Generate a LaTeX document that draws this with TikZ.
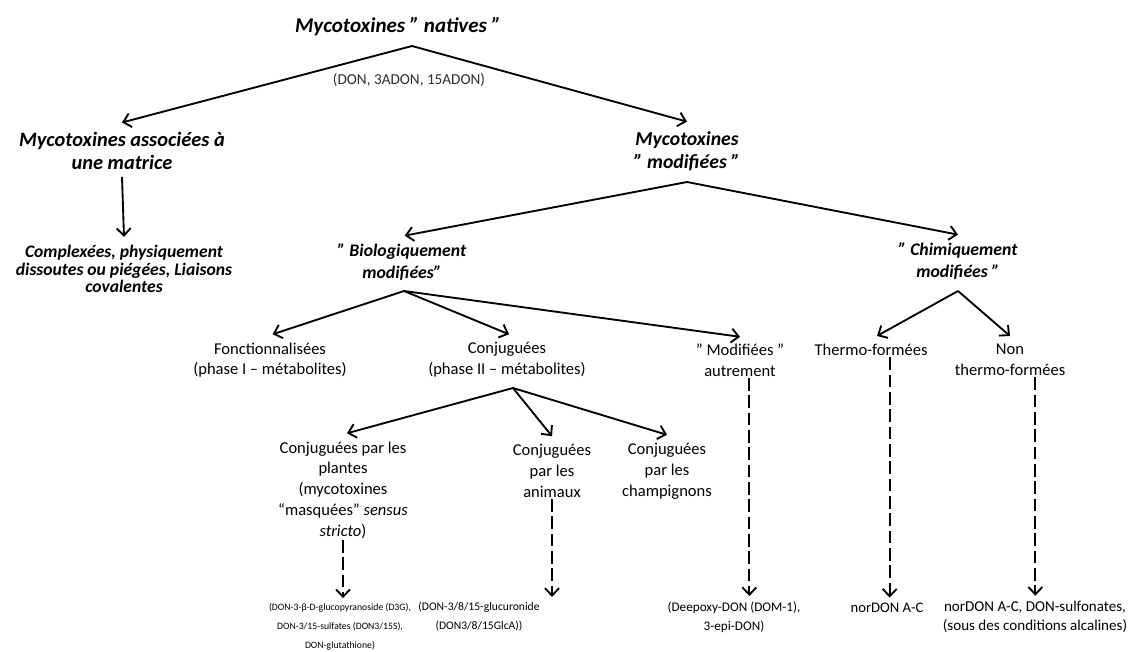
\documentclass[tikz,border=0pt]{standalone}
\usepackage{fontspec}
\setmainfont{Carlito}
\usetikzlibrary{arrows.meta}
\definecolor{gristexte}{HTML}{2E2E2E}

\begin{document}
\begin{tikzpicture}[x=0.75pt, y=-0.75pt,
    every node/.style={inner sep=1pt, align=center},
    titre/.style={font=\fontsize{15.8}{19}\selectfont\bfseries\itshape},
    grand/.style={font=\fontsize{15.3}{17.5}\selectfont\bfseries\itshape},
    moyen/.style={font=\fontsize{13.2}{13.2}\selectfont\bfseries\itshape},
    texte/.style={font=\fontsize{12.4}{15.6}\selectfont},
    petit/.style={font=\fontsize{8.7}{14.2}\selectfont},
    fleche/.style={-{Straight Barb[length=5.5pt,width=10.5pt,line width=1.4pt]}, line width=1.4pt},
    tirets/.style={fleche, dash pattern=on 9.5pt off 3.5pt, shorten >=3pt}]
  \useasboundingbox (0,0) rectangle (1130,651);

  % niveau 0
  \node[titre] (natives) at (398,27) {Mycotoxines ” natives ”};
  \node[texte, text=gristexte, font=\fontsize{11.4}{13}\selectfont] (don) at (409,80) {(DON, 3ADON, 15ADON)};
  \coordinate (natapex) at (412,46);

  % niveau 1
  \node[grand] (assoc) at (122,151) {Mycotoxines associées à\\une matrice};
  \node[moyen] (compl) at (124,269) {Complexées, physiquement\\dissoutes ou piégées, Liaisons\\covalentes};
  \node[grand, font=\fontsize{14.8}{17.5}\selectfont\bfseries\itshape] (modif) at (687,151) {Mycotoxines\\” modifiées ”};
  \coordinate (modapex) at (687,182);

  % niveau 2
  \node[grand, font=\fontsize{13.3}{16}\selectfont\bfseries\itshape] (bio) at (402,262) {” Biologiquement\\modifiées”};
  \node[grand, font=\fontsize{13.3}{16}\selectfont\bfseries\itshape] (chem) at (958,261) {” Chimiquement\\modifiées ”};
  \coordinate (bioapex) at (404,291);
  \coordinate (chemapex) at (958,291);

  % niveau 3
  \node[texte] (fonct) at (270,360) {Fonctionnalisées\\(phase I – métabolites)};
  \node[texte] (conj) at (507,360) {Conjuguées\\(phase II – métabolites)};
  \node[texte] (autre) at (740,360) {” Modifiées ”\\autrement};
  \node[texte] (thermo) at (871,350) {Thermo-formées};
  \node[texte] (nonthermo) at (1010,360) {Non\\thermo-formées};
  \coordinate (conjapex) at (513,388);

  % niveau 4
  \node[texte] (plantes) at (343,490) {Conjuguées par les\\plantes\\(mycotoxines\\“masquées” \textit{sensus}\\\textit{stricto})};
  \node[texte] (animaux) at (552,471) {Conjuguées\\par les\\animaux};
  \node[texte] (champ) at (667,471) {Conjuguées\\par les\\champignons};

  % exemples
  \node[petit, font=\fontsize{7.3}{14.2}\selectfont] (ex1) at (340,627) {(DON-3-β-D-glucopyranoside (D3G),\\DON-3/15-sulfates (DON3/15S),\\DON-glutathione)};
  \node[petit] (ex2) at (479,617) {(DON-3/8/15-glucuronide\\(DON3/8/15GlcA))};
  \node[petit, font=\fontsize{9.9}{14.2}\selectfont] (ex3) at (734,617) {(Deepoxy-DON (DOM-1),\\3-epi-DON)};
  \node[petit, font=\fontsize{11}{14.2}\selectfont] (ex4) at (887,608) {norDON A-C};
  \node[petit, font=\fontsize{11.3}{14.2}\selectfont] (ex5) at (1035,617) {norDON A-C, DON-sulfonates,\\(sous des conditions alcalines)};

  % fleches pleines
  \draw[fleche] (natapex) -- ([yshift=6pt]assoc.north);
  \draw[fleche] (natapex) -- ([yshift=6pt]modif.north);
  \draw[fleche] ([yshift=-4pt]assoc.south) -- ([yshift=5pt]compl.north);
  \draw[fleche] (modapex) -- ([xshift=2pt, yshift=5pt]bio.north);
  \draw[fleche] (modapex) -- ([yshift=5pt]chem.north);
  \draw[fleche] (bioapex) -- ([xshift=2pt, yshift=5pt]fonct.north);
  \draw[fleche] (bioapex) -- ([xshift=1.5pt, yshift=5pt]conj.north);
  \draw[fleche] (bioapex) -- ([yshift=4pt]autre.north);
  \draw[fleche] (chemapex) -- ([xshift=4.5pt, yshift=5pt]thermo.north);
  \draw[fleche] (chemapex) -- ([yshift=5pt]nonthermo.north);
  \draw[fleche] (conjapex) -- ([xshift=3pt, yshift=5pt]plantes.north);
  \draw[fleche] (conjapex) -- ([yshift=5pt]animaux.north);
  \draw[fleche] (conjapex) -- ([yshift=5pt]champ.north);

  % fleches en tirets
  \draw[tirets] (plantes.south) -- (plantes.south |- ex1.north);
  \draw[tirets] (animaux.south) -- (animaux.south |- ex2.north);
  \draw[tirets] ([xshift=7pt]autre.south) -- ([xshift=7pt]autre.south |- ex3.north);
  \draw[tirets] ([xshift=14pt]thermo.south) -- ([xshift=14pt]thermo.south |- ex4.north);
  \draw[tirets] ([xshift=19pt]nonthermo.south) -- ([xshift=19pt]nonthermo.south |- ex5.north);
\end{tikzpicture}
\end{document}
